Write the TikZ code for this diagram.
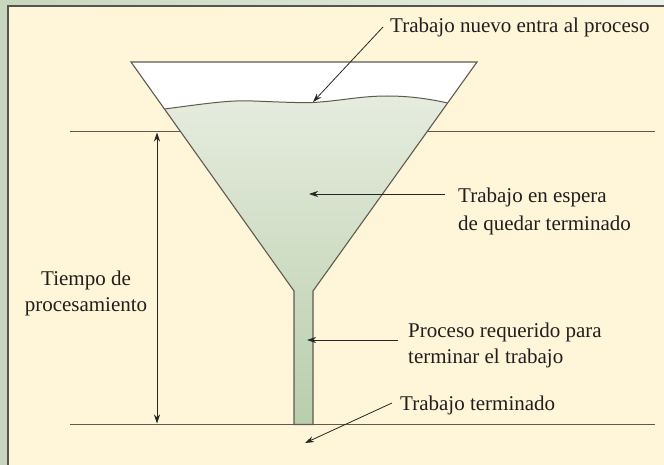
\documentclass[tikz,border=0pt]{standalone}
\usepackage{fontspec}
\setmainfont{Liberation Serif}
\usetikzlibrary{arrows.meta}
\definecolor{bgA}{RGB}{200,214,190}
\definecolor{bgB}{RGB}{236,241,233}
\definecolor{cream}{RGB}{255,245,216}
\definecolor{frame}{RGB}{85,85,80}
\definecolor{ink}{RGB}{95,90,80}
\definecolor{waterTop}{RGB}{230,236,222}
\definecolor{waterBot}{RGB}{184,206,172}
\definecolor{txt}{RGB}{35,30,30}
\tikzset{
  lbl/.style={inner sep=0pt, text=txt, font=\fontsize{21}{26}\selectfont, align=left},
  guide/.style={draw=ink, line width=1.3pt},
  ptr/.style={draw=black!85, line width=0.8pt, -{Stealth[length=9pt,width=6pt]}},
  dptr/.style={draw=black!85, line width=0.8pt, {Stealth[length=9pt,width=6pt]}-{Stealth[length=9pt,width=6pt]}},
}
\begin{document}
\begin{tikzpicture}[x=1pt,y=-1pt]
\useasboundingbox (0,0) rectangle (664,465);
% background
\shade[left color=bgA, right color=bgB] (0,0) rectangle (664,465);
\fill[cream] (8,6) rectangle (664,465);
\draw[frame, line width=1.6pt] (8,465) -- (8,6) -- (664,6);
% top horizontal guide (behind funnel)
\draw[guide] (70,131.7) -- (655,131.7);
% funnel: empty upper part
\fill[white] (131,62) -- (477,62) -- (447.6,103)
  .. controls (430,99) and (410,96) .. (387,96)
  .. controls (360,96) and (340,101) .. (313,102.5)
  .. controls (300,103) and (280,102) .. (253,101)
  .. controls (230,100) and (210,103) .. (164.5,109) -- cycle;
% funnel: water
\shade[top color=waterTop, bottom color=waterBot]
  (164.5,109) .. controls (210,103) and (230,100) .. (253,101)
  .. controls (280,102) and (300,103) .. (313,102.5)
  .. controls (340,101) and (360,96) .. (387,96)
  .. controls (410,96) and (430,99) .. (447.6,103)
  -- (313,291) -- (313,424.5) -- (294,424.5) -- (294,291) -- cycle;
% water surface
\draw[ink, line width=1pt] (164.5,109) .. controls (210,103) and (230,100) .. (253,101)
  .. controls (280,102) and (300,103) .. (313,102.5)
  .. controls (340,101) and (360,96) .. (387,96)
  .. controls (410,96) and (430,99) .. (447.6,103);
% funnel outline
\draw[ink, line width=1.1pt, line join=miter] (131,62) -- (477,62) -- (313,291) -- (313,424.5) -- (294,424.5) -- (294,291) -- cycle;
% bottom guide
\draw[guide] (70,424.5) -- (655,424.5);
% labels (base anchor = baseline of last line)
\node[lbl, anchor=base west] (nuevo) at (390,33) {Trabajo nuevo entra al proceso};
\node[lbl, font=\fontsize{21}{28}\selectfont, anchor=base west] (espera) at (458,230) {Trabajo en espera\\de quedar terminado};
\node[lbl, anchor=base west] (proceso) at (408,363) {Proceso requerido para\\terminar el trabajo};
\node[lbl, anchor=base west] (term) at (400,410.5) {Trabajo terminado};
\node[lbl, align=center, anchor=base] (tiempo) at (86,311.5) {Tiempo de\\procesamiento};
% pointer ends
\coordinate (nuevoS) at (383,27);
\coordinate (nuevoT) at (313,102);
\coordinate (esperaS) at (445,194);
\coordinate (esperaT) at (309,194);
\coordinate (procS) at (398,340);
\coordinate (procT) at (307,340);
\coordinate (termS) at (392,403);
\coordinate (termT) at (305,443);
\coordinate (tTop) at (157,132.5);
\coordinate (tBot) at (157,423.5);
% pointers
\draw[ptr] (nuevoS) -- (nuevoT);
\draw[ptr] (esperaS) -- (esperaT);
\draw[ptr] (procS) -- (procT);
\draw[ptr] (termS) -- (termT);
\draw[dptr] (tTop) -- (tBot);
\end{tikzpicture}
\end{document}
